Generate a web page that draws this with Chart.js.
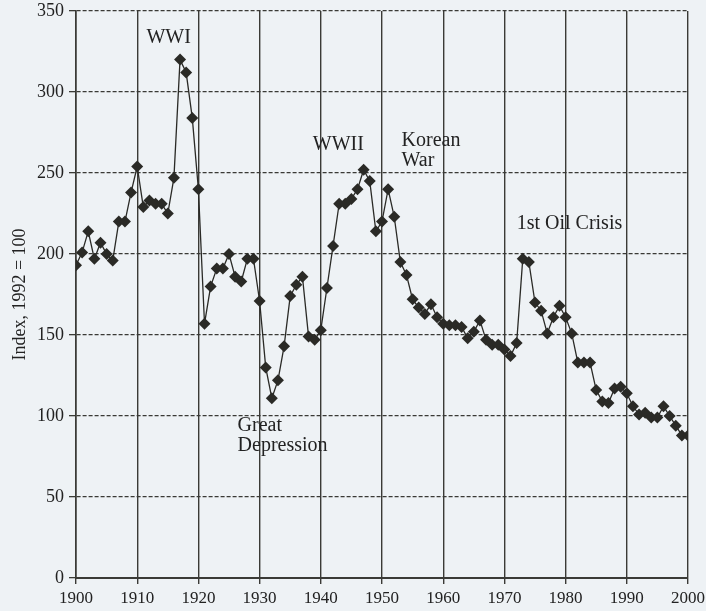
<!DOCTYPE html>
<html>
<head>
<meta charset="utf-8">
<script src="https://cdn.jsdelivr.net/npm/chart.js@4.4.1/dist/chart.umd.min.js"></script>
<style>
  html, body { margin: 0; padding: 0; background: #eef2f5; }
  canvas { display: block; }
</style>
</head>
<body>
<canvas id="chart" width="706" height="611"></canvas>
<script>
const years = [];
for (let y = 1900; y <= 2000; y++) years.push(y);

const indexValues = [
    193, 201, 214, 197, 207, 200, 196, 220, 220, 238,
    254, 229, 233, 231, 231, 225, 247, 320, 312, 284,
    240, 157, 180, 191, 191, 200, 186, 183, 197, 197,
    171, 130, 111, 122, 143, 174, 181, 186, 149, 147,
    153, 179, 205, 231, 231, 234, 240, 252, 245, 214,
    220, 240, 223, 195, 187, 172, 167, 163, 169, 161,
    157, 156, 156, 155, 148, 152, 159, 147, 144, 144,
    141, 137, 145, 197, 195, 170, 165, 151, 161, 168,
    161, 151, 133, 133, 133, 116, 109, 108, 117, 118,
    114, 106, 101, 102, 99, 99, 106, 100, 94, 88,
    88
];

// annotation text, anchored at (year, index) of the left baseline
const noteLines = ['WWI', 'WWII', 'Korean', 'War', '1st Oil Crisis', 'Great', 'Depression'];
const noteYears = [1911.5, 1938.7, 1953.2, 1953.2, 1972.0, 1926.4, 1926.4];
const noteValues = [330.4, 264.4, 266.9, 254.1, 215.6, 90.5, 78.1];

const INK = '#2a2a26';
const FONT = '"Liberation Serif", "Times New Roman", serif';

const backgroundPlugin = {
    id: 'paper',
    beforeDraw(chart) {
        const ctx = chart.ctx;
        ctx.save();
        ctx.fillStyle = '#eef2f5';
        ctx.fillRect(0, 0, chart.width, chart.height);
        ctx.restore();
    }
};

const notesPlugin = {
    id: 'notes',
    afterDraw(chart) {
        const ctx = chart.ctx;
        const xs = chart.scales.x;
        const ys = chart.scales.y;
        ctx.save();
        ctx.fillStyle = '#222';
        ctx.font = '20px ' + FONT;
        ctx.textAlign = 'left';
        ctx.textBaseline = 'alphabetic';
        noteLines.forEach((txt, i) => {
            ctx.fillText(txt, xs.getPixelForValue(noteYears[i]), ys.getPixelForValue(noteValues[i]));
        });
        ctx.restore();
    }
};

new Chart(document.getElementById('chart').getContext('2d'), {
    type: 'line',
    data: {
        datasets: [{
            data: years.map((yr, i) => ({ x: yr, y: indexValues[i] })),
            borderColor: INK,
            borderWidth: 1.3,
            pointStyle: 'rectRot',
            pointRadius: 6,
            pointBackgroundColor: INK,
            pointBorderColor: INK,
            pointBorderWidth: 0,
            tension: 0,
            fill: false
        }]
    },
    options: {
        responsive: false,
        animation: false,
        layout: { padding: 0 },
        plugins: {
            legend: { display: false },
            tooltip: { enabled: false }
        },
        scales: {
            x: {
                type: 'linear',
                min: 1900,
                max: 2000,
                afterFit: s => { s.height = 33; s.paddingRight = 18; s.paddingLeft = 0; },
                ticks: {
                    stepSize: 10,
                    color: '#222',
                    font: { family: FONT, size: 17 },
                    padding: 4,
                    maxRotation: 0,
                    callback: v => String(v)
                },
                grid: {
                    color: '#3a3a36',
                    lineWidth: 1.4,
                    tickLength: 6,
                    tickColor: '#3a3a36'
                },
                border: { color: '#3a3a36', width: 2 }
            },
            y: {
                min: 0,
                max: 350,
                afterFit: s => { s.width = 76; s.paddingTop = 11; s.paddingBottom = 0; },
                ticks: {
                    stepSize: 50,
                    color: '#222',
                    font: { family: FONT, size: 18 },
                    padding: 5
                },
                grid: {
                    color: '#3a3a36',
                    lineWidth: 1.3,
                    tickLength: 7,
                    tickColor: '#3a3a36',
                    tickBorderDash: []
                },
                border: { color: '#3a3a36', width: 1.6, dash: [4, 2] },
                title: {
                    display: true,
                    text: 'Index, 1992 = 100',
                    color: '#222',
                    font: { family: FONT, size: 18 },
                    padding: { top: 9, bottom: 0 }
                }
            }
        }
    },
    plugins: [backgroundPlugin, notesPlugin]
});
</script>
</body>
</html>
